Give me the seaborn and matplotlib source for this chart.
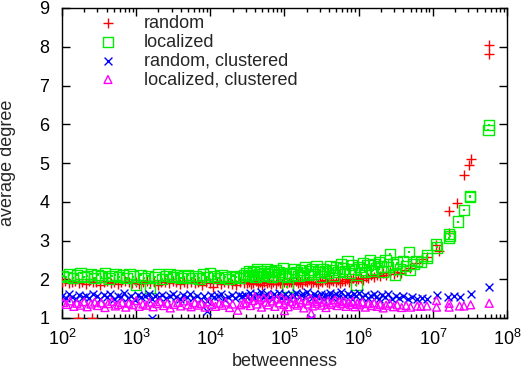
import numpy as np
import pandas as pd
import seaborn as sns
import matplotlib
matplotlib.use("Agg")
import matplotlib.pyplot as plt
import matplotlib.ticker as ticker

# betweenness given as log10 values, average degree as is
rand_logb = [2.00, 2.04, 2.09, 2.13, 2.18, 2.23, 2.27, 2.32, 2.37, 2.42, 2.46, 2.51, 2.56, 2.61, 2.66, 2.70, 2.75,
             2.80, 2.85, 2.90, 2.95, 3.00, 3.04, 3.09, 3.14, 3.19, 3.24, 3.29, 3.34, 3.39, 3.44, 3.49, 3.54, 3.59,
             3.64, 3.69, 3.74, 3.79, 3.84, 3.89, 3.94, 3.99, 4.04, 4.09, 4.14, 4.19, 4.24, 4.29, 4.35, 4.40, 4.45,
             4.49, 4.52, 4.55, 4.58, 4.61, 4.64, 4.67, 4.70, 4.73, 4.76, 4.79, 4.82, 4.85, 4.88, 4.91, 4.94, 4.97,
             5.00, 5.03, 5.06, 5.09, 5.12, 5.15, 5.18, 5.21, 5.24, 5.27, 5.30, 5.33, 5.36, 5.39, 5.42, 5.45, 5.48,
             5.51, 5.54, 5.57, 5.60, 5.63, 5.66, 5.69, 5.72, 5.75, 5.78, 5.81, 5.84, 5.87, 5.90, 5.93, 5.96, 5.99,
             6.03, 6.06, 6.10, 6.13, 6.17, 6.21, 6.25, 6.29, 6.33, 6.37, 6.42, 6.47, 6.52, 6.57, 6.62, 6.69, 6.77,
             6.86, 6.92, 7.04, 7.08, 7.22, 7.22, 7.33, 7.42, 7.49, 7.51, 7.76, 7.76, 2.21, 2.40]
rand_deg = [1.92, 1.95, 1.90, 1.94, 1.96, 1.91, 1.93, 1.88, 1.95, 1.92, 1.94, 1.86, 1.93, 1.95, 1.91, 1.94, 1.89,
            1.93, 1.96, 1.92, 1.90, 1.94, 1.87, 1.93, 1.95, 1.91, 1.92, 1.85, 1.94, 1.93, 1.90, 1.95, 1.92, 1.88,
            1.94, 1.91, 1.93, 1.90, 1.92, 1.86, 1.94, 1.91, 1.80, 1.92, 1.89, 1.93, 1.91, 1.88, 1.85, 1.92, 1.90,
            1.90, 1.93, 1.87, 1.91, 1.95, 1.88, 1.92, 1.86, 1.93, 1.90, 1.94, 1.89, 1.92, 1.88, 1.95, 1.91, 1.87,
            1.93, 1.90, 1.94, 1.92, 1.89, 1.96, 1.91, 1.93, 1.88, 1.95, 1.92, 1.97, 1.90, 1.94, 1.93, 1.89, 1.96,
            1.92, 1.98, 1.94, 1.90, 1.97, 1.95, 1.93, 1.99, 1.91, 1.96, 1.95, 2.00, 1.94, 1.98, 2.02, 1.96, 2.01,
            2.04, 1.99, 2.07, 2.02, 2.10, 2.05, 2.12, 2.08, 2.15, 2.11, 2.18, 2.14, 2.20, 2.17, 2.24, 2.29, 2.42,
            2.52, 2.58, 2.89, 2.72, 3.19, 3.77, 3.98, 4.69, 4.95, 5.10, 7.81, 8.05, 1.00, 1.00]

loc_logb = [2.01, 2.06, 2.10, 2.15, 2.20, 2.25, 2.29, 2.34, 2.39, 2.44, 2.48, 2.53, 2.58, 2.63, 2.67, 2.72, 2.77,
            2.82, 2.87, 2.91, 2.96, 3.00, 3.06, 3.11, 3.16, 3.19, 3.25, 3.30, 3.35, 3.40, 3.45, 3.50, 3.55, 3.60,
            3.65, 3.70, 3.75, 3.80, 3.85, 3.90, 3.95, 4.00, 4.05, 4.10, 4.15, 4.20, 4.25, 4.30, 4.35, 4.40, 4.45,
            4.48, 4.51, 4.53, 4.56, 4.58, 4.61, 4.63, 4.66, 4.68, 4.71, 4.73, 4.76, 4.78, 4.81, 4.83, 4.86, 4.88,
            4.91, 4.93, 4.96, 4.98, 5.01, 5.04, 5.07, 5.10, 5.13, 5.16, 5.19, 5.22, 5.25, 5.28, 5.31, 5.34, 5.37,
            5.40, 5.43, 5.46, 5.49, 5.52, 5.55, 5.58, 5.61, 5.64, 5.67, 5.70, 5.73, 5.76, 5.79, 5.82, 5.85, 5.88,
            5.91, 5.94, 5.97, 6.00, 6.03, 6.06, 6.09, 6.12, 6.15, 6.18, 6.21, 6.24, 6.27, 6.30, 6.33, 6.36, 6.39,
            6.42, 6.46, 6.49, 6.52, 6.56, 6.60, 6.64, 6.69, 6.68, 6.74, 6.78, 6.84, 6.92, 6.92, 7.04, 7.06, 7.22,
            7.22, 7.23, 7.34, 7.42, 7.50, 7.50, 7.76, 7.75]
loc_deg = [2.08, 2.05, 2.12, 2.03, 2.10, 2.15, 2.06, 2.09, 2.13, 2.04, 2.11, 2.07, 2.16, 2.02, 2.09, 2.12, 2.05,
           2.10, 2.04, 2.14, 2.07, 1.85, 2.11, 2.03, 2.09, 1.77, 2.06, 2.12, 2.01, 2.08, 2.13, 2.05, 2.10, 2.03,
           2.07, 2.11, 2.04, 2.09, 2.02, 2.12, 2.06, 2.15, 2.08, 2.03, 2.10, 2.05, 2.00, 2.09, 2.06, 2.04, 2.11,
           2.15, 2.08, 2.22, 2.11, 2.18, 2.05, 2.25, 2.13, 2.20, 2.09, 2.16, 2.27, 2.12, 2.21, 2.06, 2.18, 2.24,
           2.10, 2.19, 2.14, 2.29, 2.08, 1.80, 2.16, 2.12, 2.26, 2.18, 2.09, 2.23, 2.15, 2.31, 2.11, 2.20, 2.25,
           2.13, 2.34, 2.19, 2.07, 2.27, 2.22, 2.16, 2.33, 2.24, 2.10, 2.30, 2.19, 2.40, 2.28, 2.22, 2.47, 2.17,
           2.36, 2.26, 1.85, 2.32, 2.25, 2.42, 2.18, 2.36, 2.50, 2.21, 2.39, 2.28, 2.45, 2.33, 2.20, 2.48, 2.31,
           2.65, 2.38, 2.12, 2.43, 2.26, 2.47, 2.35, 2.23, 2.70, 2.40, 2.47, 2.44, 2.54, 2.61, 2.90, 2.82, 3.06,
           3.16, 3.12, 3.49, 3.79, 4.15, 4.12, 5.98, 5.85]

rcl_logb = [2.00, 2.05, 2.09, 2.14, 2.19, 2.23, 2.28, 2.33, 2.37, 2.42, 2.47, 2.51, 2.56, 2.61, 2.65, 2.70, 2.75,
            2.79, 2.84, 2.89, 2.93, 2.98, 3.03, 3.07, 3.12, 3.17, 3.21, 3.26, 3.31, 3.35, 3.40, 3.45, 3.49, 3.54,
            3.59, 3.63, 3.68, 3.73, 3.77, 3.82, 3.87, 3.91, 3.96, 4.01, 4.05, 4.10, 4.15, 4.19, 4.24, 4.29, 4.33,
            4.38, 4.43, 3.21, 3.96,
            4.47, 4.50, 4.53, 4.56, 4.59, 4.62, 4.65, 4.68, 4.71, 4.74, 4.77, 4.80, 4.83, 4.86, 4.89, 4.92, 4.95,
            4.98, 5.01, 5.04, 5.07, 5.10, 5.13, 5.16, 5.19, 5.22, 5.25, 5.28, 5.31, 5.34, 5.37, 5.40, 5.43, 5.46,
            5.49, 5.52, 5.55, 5.58, 5.61, 5.64, 5.67, 5.70, 5.73, 5.76, 5.79, 5.82, 5.85, 5.88, 5.91, 5.94, 5.97,
            6.00, 6.04, 6.08, 6.12, 6.16, 6.20, 6.24, 6.28, 6.32, 6.36, 6.40, 6.45, 6.50, 6.55, 6.60, 6.66, 6.72,
            6.79, 6.85, 6.92, 7.05, 7.21, 7.28, 7.36, 7.51, 7.76, 5.36]
rcl_deg = [1.58, 1.52, 1.62, 1.55, 1.49, 1.60, 1.54, 1.57, 1.51, 1.63, 1.56, 1.48, 1.59, 1.53, 1.61, 1.50, 1.57,
           1.55, 1.64, 1.52, 1.58, 1.47, 1.60, 1.54, 1.56, 1.62, 1.49, 1.58, 1.53, 1.60, 1.51, 1.57, 1.63, 1.55,
           1.48, 1.59, 1.54, 1.61, 1.52, 1.56, 1.50, 1.58, 1.45, 1.60, 1.53, 1.57, 1.62, 1.49, 1.55, 1.59, 1.52,
           1.60, 1.56, 1.00, 1.19,
           1.60, 1.54, 1.65, 1.57, 1.51, 1.62, 1.56, 1.66, 1.53, 1.59, 1.63, 1.55, 1.50, 1.61, 1.57, 1.64, 1.52,
           1.58, 1.62, 1.55, 1.48, 1.60, 1.56, 1.65, 1.53, 1.59, 1.61, 1.54, 1.67, 1.57, 1.51, 1.63, 1.58, 1.55,
           1.62, 1.49, 1.60, 1.56, 1.64, 1.53, 1.59, 1.61, 1.55, 1.66, 1.52, 1.58, 1.63, 1.56, 1.50, 1.61, 1.57,
           1.64, 1.54, 1.60, 1.51, 1.58, 1.62, 1.55, 1.48, 1.59, 1.53, 1.61, 1.50, 1.56, 1.52, 1.58, 1.49, 1.55,
           1.49, 1.51, 1.50, 1.59, 1.55, 1.56, 1.55, 1.62, 1.80, 1.00]

lcl_logb = [2.02, 2.06, 2.11, 2.16, 2.20, 2.25, 2.30, 2.34, 2.39, 2.44, 2.48, 2.53, 2.58, 2.62, 2.67, 2.72, 2.76,
            2.81, 2.86, 2.90, 2.95, 3.00, 3.04, 3.09, 3.14, 3.18, 3.23, 3.28, 3.32, 3.37, 3.42, 3.46, 3.51, 3.56,
            3.60, 3.65, 3.70, 3.74, 3.79, 3.84, 3.88, 3.93, 3.98, 4.02, 4.07, 4.12, 4.16, 4.21, 4.26, 4.30, 4.37,
            4.41, 4.45,
            4.48, 4.51, 4.54, 4.57, 4.60, 4.63, 4.66, 4.69, 4.72, 4.75, 4.78, 4.81, 4.84, 4.87, 4.90, 4.93, 4.96,
            4.99, 5.02, 5.05, 5.08, 5.11, 5.14, 5.17, 5.20, 5.23, 5.26, 5.29, 5.32, 5.35, 5.38, 5.41, 5.44, 5.47,
            5.50, 5.53, 5.56, 5.59, 5.62, 5.65, 5.68, 5.71, 5.74, 5.77, 5.80, 5.83, 5.86, 5.89, 5.92, 5.95, 5.98,
            6.01, 6.05, 6.09, 6.13, 6.17, 6.21, 6.25, 6.29, 6.33, 6.37, 6.42, 6.47, 6.52, 6.58, 6.64, 6.70, 6.79,
            6.84, 6.92, 7.05, 7.05, 7.22, 7.22, 7.36, 7.42, 7.51, 7.76, 5.00, 5.36]
lcl_deg = [1.40, 1.35, 1.44, 1.30, 1.38, 1.33, 1.42, 1.29, 1.36, 1.41, 1.32, 1.39, 1.27, 1.37, 1.43, 1.31, 1.35,
           1.40, 1.28, 1.38, 1.34, 1.45, 1.30, 1.36, 1.33, 1.41, 1.29, 1.37, 1.42, 1.32, 1.38, 1.26, 1.35, 1.40,
           1.31, 1.44, 1.34, 1.29, 1.39, 1.33, 1.37, 1.28, 1.42, 1.35, 1.30, 1.38, 1.33, 1.41, 1.27, 1.36, 1.20,
           1.34, 1.39,
           1.38, 1.50, 1.32, 1.45, 1.55, 1.36, 1.48, 1.28, 1.52, 1.41, 1.34, 1.57, 1.44, 1.30, 1.49, 1.39, 1.53,
           1.35, 1.46, 1.29, 1.42, 1.51, 1.37, 1.33, 1.47, 1.40, 1.26, 1.44, 1.36, 1.50, 1.31, 1.43, 1.38, 1.48,
           1.33, 1.41, 1.27, 1.45, 1.35, 1.39, 1.47, 1.32, 1.42, 1.37, 1.44, 1.30, 1.40, 1.35, 1.43, 1.29, 1.38,
           1.34, 1.41, 1.28, 1.37, 1.32, 1.39, 1.30, 1.35, 1.26, 1.33, 1.38, 1.29, 1.34, 1.27, 1.32, 1.28, 1.31,
           1.30, 1.31, 1.45, 1.28, 1.38, 1.28, 1.31, 1.31, 1.34, 1.38, 1.19, 1.12]

x_decades = [2, 3, 4, 5, 6, 7, 8]
y_ticks = [1, 2, 3, 4, 5, 6, 7, 8, 9]

series = [
    ("random", rand_logb, rand_deg, "+", "#ff0000", 55),
    ("localized", loc_logb, loc_deg, "s", "#00ee00", 55),
    ("random, clustered", rcl_logb, rcl_deg, "x", "#0000ff", 32),
    ("localized, clustered", lcl_logb, lcl_deg, "^", "#ff00ff", 32),
]

sns.set_style("ticks")
plt.rcParams["font.family"] = ["Liberation Sans", "DejaVu Sans"]
plt.rcParams["mathtext.fontset"] = "custom"
plt.rcParams["mathtext.rm"] = "Liberation Sans"
plt.rcParams["mathtext.it"] = "Liberation Sans"
plt.rcParams["font.size"] = 13

fig = plt.figure(figsize=(5.27, 3.71), dpi=100)
ax = fig.add_axes([62 / 527, 1 - 318 / 371, 445 / 527, 310 / 371])

for name, lb, deg, mk, col, sz in series:
    df = pd.DataFrame({"betweenness": 10 ** np.array(lb), "average degree": deg})
    if mk in ("+", "x"):
        sns.scatterplot(data=df, x="betweenness", y="average degree", marker=mk, color=col,
                        s=sz, linewidth=1.0, label=name, ax=ax, zorder=3)
    else:
        sns.scatterplot(data=df, x="betweenness", y="average degree", marker=mk, fc="none", ec=col,
                        s=sz, linewidth=1.0, label=name, ax=ax, zorder=3)
    if mk == "s":
        # gnuplot puts a small dot in the middle of each square
        sns.scatterplot(data=df, x="betweenness", y="average degree", marker="s", color=col,
                        s=1.5, linewidth=0, ax=ax, zorder=3, legend=False)

ax.set_xscale("log")
ax.set_xlim(1e2, 1e8)
ax.set_ylim(1, 9)
major = [10.0 ** d for d in x_decades]
minor = [m * 10.0 ** d for d in x_decades[:-1] for m in range(2, 10)]
ax.xaxis.set_major_locator(ticker.FixedLocator(major))
ax.xaxis.set_major_formatter(ticker.FixedFormatter([r"$10^{%d}$" % d for d in x_decades]))
ax.xaxis.set_minor_locator(ticker.FixedLocator(minor))
ax.xaxis.set_minor_formatter(ticker.NullFormatter())
ax.yaxis.set_major_locator(ticker.FixedLocator(y_ticks))
ax.tick_params(which="both", direction="in", top=True, right=True, colors="black", labelsize=13)
ax.tick_params(which="major", length=6, width=1)
ax.tick_params(which="minor", length=3, width=1)
ax.tick_params(axis="x", which="major", pad=8)
ax.tick_params(axis="y", which="major", pad=9)
for sp in ax.spines.values():
    sp.set_linewidth(1)
    sp.set_color("black")

ax.set_xlabel("betweenness", fontsize=13)
ax.set_ylabel("average degree", fontsize=13)
ax.xaxis.set_label_coords(0.5, -0.113)
ax.yaxis.set_label_coords(-0.103, 0.5)

ax.legend(loc="upper left", bbox_to_anchor=(0.083, 0.978), frameon=False, borderpad=0,
          borderaxespad=0, labelspacing=0.1, handlelength=1.0, handletextpad=1.5, fontsize=13)

fig.savefig("out.png", dpi=100)
